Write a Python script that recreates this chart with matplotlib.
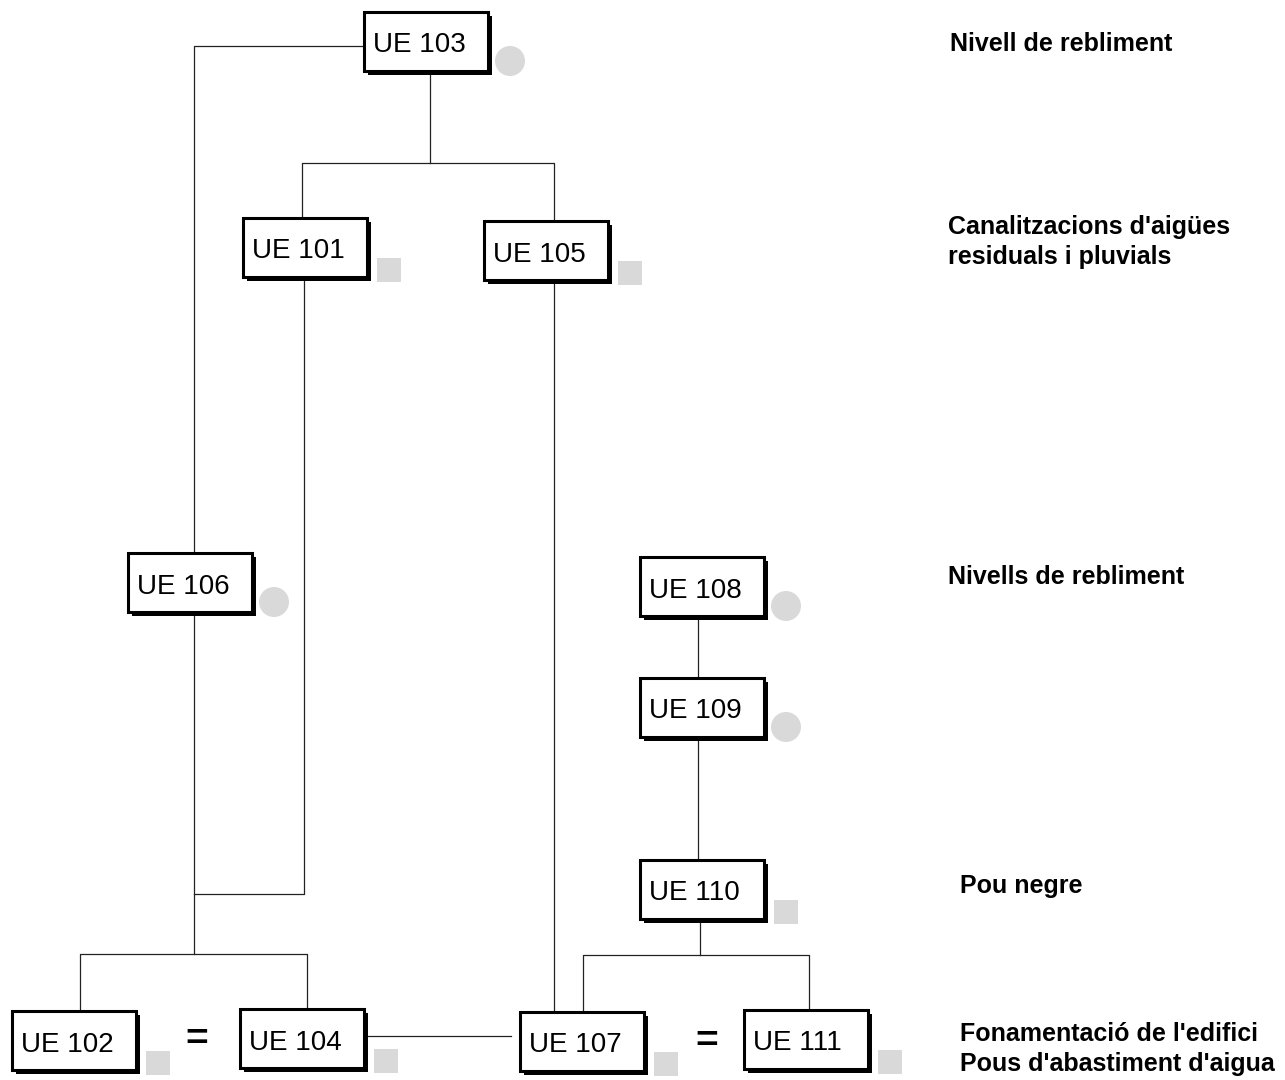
import matplotlib.pyplot as plt
from matplotlib.patches import Rectangle, Circle

# Unitats estratigrafiques: nom, caixa (esquerra, dalt), tipus de marca
units   = ['UE 103', 'UE 101', 'UE 105', 'UE 106', 'UE 108', 'UE 109',
           'UE 110', 'UE 102', 'UE 104', 'UE 107', 'UE 111']
box_x   = [364, 243, 484, 128, 640, 640, 640, 12, 240, 520, 744]
box_y   = [12, 218, 221, 553, 557, 678, 860, 1011, 1009, 1012, 1010]
markers = ['o', 's', 's', 'o', 'o', 'o', 's', 's', 's', 's', 's']

# Relacions (polilinies)
links = [
    [(364, 46), (194, 46), (194, 553)],
    [(430, 71), (430, 163)],
    [(302, 218), (302, 163), (554, 163), (554, 221)],
    [(304, 278), (304, 894), (194, 894)],
    [(194, 613), (194, 954)],
    [(80, 1011), (80, 954), (307, 954), (307, 1009)],
    [(364, 1036), (511, 1036)],
    [(554, 281), (554, 1012)],
    [(698, 617), (698, 678)],
    [(698, 737), (698, 860)],
    [(700, 920), (700, 955)],
    [(583, 1012), (583, 955), (809, 955), (809, 1010)],
]

equals = [(197, 1040), (707, 1042)]

phases   = ["Nivell de rebliment",
            "Canalitzacions d'aigües\nresiduals i pluvials",
            "Nivells de rebliment",
            "Pou negre",
            "Fonamentació de l'edifici\nPous d'abastiment d'aigua"]
phase_x  = [950, 948, 948, 960, 960]
phase_y  = [44, 242, 577, 886, 1049]

W, H = 124, 59

fig = plt.figure(figsize=(12.85, 10.80), dpi=100)
ax = fig.add_axes([0, 0, 1, 1])
ax.set_xlim(0, 1285)
ax.set_ylim(1080, 0)
ax.axis('off')

for pts in links:
    xs, ys = zip(*pts)
    ax.plot(xs, ys, color='#222222', lw=0.9, zorder=1)

for name, x, y, m in zip(units, box_x, box_y, markers):
    ax.add_patch(Rectangle((x + 4, y + 4), W, H, facecolor='black',
                           edgecolor='none', zorder=2))
    ax.add_patch(Rectangle((x, y), W, H, facecolor='white',
                           edgecolor='black', lw=2.2, zorder=3))
    ax.text(x + 9, y + H / 2 + 4, name, ha='left', va='center',
            fontsize=20, family='Liberation Sans', zorder=4)
    if m == 'o':
        ax.add_patch(Circle((x + W + 22, y + H - 10), 15,
                            facecolor='#d9d9d9', edgecolor='none', zorder=2))
    else:
        ax.add_patch(Rectangle((x + W + 10, y + H - 19), 24, 24,
                               facecolor='#d9d9d9', edgecolor='none', zorder=2))

for ex, ey in equals:
    ax.text(ex, ey, '=', ha='center', va='center', fontsize=28,
            fontweight='bold', family='Liberation Sans')

for t, x, y in zip(phases, phase_x, phase_y):
    ax.text(x, y, t, ha='left', va='center', fontsize=18,
            fontweight='bold', family='Liberation Sans', linespacing=1.3)

fig.savefig('out.png', dpi=100)
